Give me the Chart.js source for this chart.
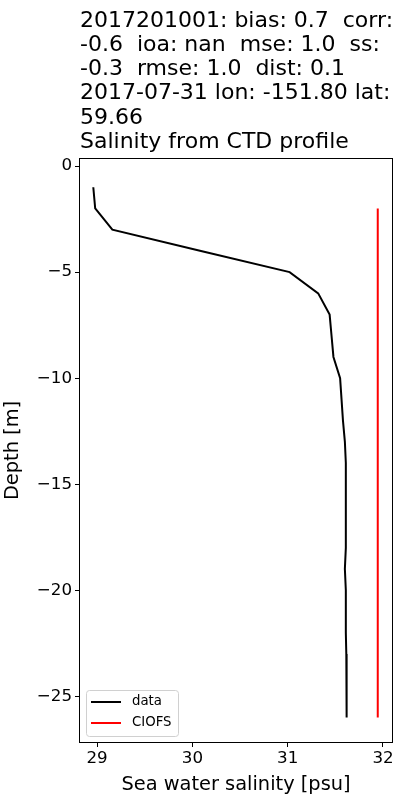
<!DOCTYPE html>
<html lang="en">
<head>
  <title>Salinity from CTD profile</title>
  <script src="https://cdn.jsdelivr.net/npm/chart.js"></script>
  <style>
    html, body { margin: 0; padding: 0; background: #fff; }
    #wrap { width: 400px; height: 800px; }
  </style>
</head>
<body>
<div id="wrap"><canvas id="profileChart"></canvas></div>
<script>
  const titleLines = [
    '2017201001: bias: 0.7  corr:',
    '-0.6  ioa: nan  mse: 1.0  ss:',
    '-0.3  rmse: 1.0  dist: 0.1',
    '2017-07-31 lon: -151.80 lat:',
    '59.66',
    'Salinity from CTD profile'
  ];

  // CTD cast (depth in m, salinity in psu)
  const dataDepth = [-1, -2, -3, -4, -5, -6, -7, -8, -9, -10, -11, -12, -13,
    -14, -15, -16, -17, -18, -19, -20, -21, -22, -23, -24, -25, -26];
  const dataSalinity = [28.96, 28.98, 29.16, 30.09, 31.02, 31.32, 31.44, 31.46, 31.48, 31.55,
    31.565, 31.58, 31.60, 31.61, 31.61, 31.61, 31.61, 31.61, 31.60, 31.61,
    31.61, 31.61, 31.615, 31.615, 31.62, 31.62];

  // model
  const modelDepth = [-2, -26];
  const modelSalinity = [31.945, 31.945];

  const xTicks = [29, 30, 31, 32];
  const yTicks = [0, -5, -10, -15, -20, -25];

  const FONT = 'DejaVu Sans';

  function toPoints(xs, ys) {
    return xs.map((x, i) => ({ x: x, y: ys[i] }));
  }

  const titlePlugin = {
    id: 'stackedTitle',
    afterDraw(chart) {
      const ctx = chart.ctx;
      ctx.save();
      ctx.fillStyle = '#000';
      ctx.font = '22px "' + FONT + '"';
      ctx.textBaseline = 'alphabetic';
      ctx.textAlign = 'left';
      titleLines.forEach((line, i) => {
        ctx.fillText(line, chart.chartArea.left + 1, 26.5 + i * 24.3);
      });
      ctx.restore();
    }
  };

  const framePlugin = {
    id: 'frame',
    afterDatasetsDraw(chart) {
      const a = chart.chartArea;
      const ctx = chart.ctx;
      ctx.save();
      ctx.strokeStyle = '#000';
      ctx.lineWidth = 1;
      ctx.strokeRect(a.left + 0.5, a.top + 0.5, a.right - a.left - 1, a.bottom - a.top - 1);
      ctx.restore();
    }
  };

  // matplotlib-style legend in the lower left corner of the axes
  const legendPlugin = {
    id: 'boxLegend',
    afterDraw(chart) {
      const a = chart.chartArea;
      const ctx = chart.ctx;
      const x0 = a.left + 7, y1 = a.bottom - 7;
      const w = 92, h = 46;
      ctx.save();
      ctx.fillStyle = 'rgba(255,255,255,0.8)';
      ctx.strokeStyle = '#d0d0d0';
      ctx.lineWidth = 1;
      ctx.beginPath();
      ctx.roundRect(x0 + 0.5, y1 - h + 0.5, w, h, 3);
      ctx.fill();
      ctx.stroke();
      ctx.font = '13.3px "' + FONT + '"';
      ctx.textBaseline = 'middle';
      chart.data.datasets.forEach((ds, i) => {
        const yy = y1 - h + 12 + i * 21;
        ctx.strokeStyle = ds.borderColor;
        ctx.lineWidth = 2;
        ctx.beginPath();
        ctx.moveTo(x0 + 5, yy);
        ctx.lineTo(x0 + 35, yy);
        ctx.stroke();
        ctx.fillStyle = '#000';
        ctx.fillText(ds.label, x0 + 46, yy);
      });
      ctx.restore();
    }
  };

  new Chart(document.getElementById('profileChart'), {
    type: 'scatter',
    data: {
      datasets: [
        {
          label: 'data',
          data: toPoints(dataSalinity, dataDepth),
          showLine: true,
          borderColor: '#000000',
          borderWidth: 2,
          pointRadius: 0,
          tension: 0
        },
        {
          label: 'CIOFS',
          data: toPoints(modelSalinity, modelDepth),
          showLine: true,
          borderColor: '#ff0000',
          borderWidth: 2,
          pointRadius: 0,
          tension: 0
        }
      ]
    },
    options: {
      responsive: true,
      maintainAspectRatio: false,
      animation: false,
      layout: { padding: { top: 158, right: 7, left: 0, bottom: 0 } },
      plugins: {
        legend: { display: false },
        title: { display: false },
        tooltip: { enabled: false }
      },
      scales: {
        x: {
          type: 'linear',
          min: 28.81,
          max: 32.105,
          afterBuildTicks: s => { s.ticks = xTicks.map(v => ({ value: v })); },
          afterFit: s => { s.height = 57; },
          grid: { drawOnChartArea: false, drawTicks: true, tickLength: 4, color: '#000', tickColor: '#000' },
          border: { display: false },
          ticks: { color: '#000', font: { family: FONT, size: 16.7 }, padding: 2, maxRotation: 0 },
          title: { display: true, text: 'Sea water salinity [psu]', color: '#000', font: { family: FONT, size: 19.4 }, padding: { top: 0, bottom: 3 } }
        },
        y: {
          type: 'linear',
          min: -27.2,
          max: 0.38,
          afterBuildTicks: s => { s.ticks = yTicks.map(v => ({ value: v })); },
          afterFit: s => { s.width = 79; },
          grid: { drawOnChartArea: false, drawTicks: true, tickLength: 4, color: '#000', tickColor: '#000' },
          border: { display: false },
          ticks: {
            color: '#000',
            font: { family: FONT, size: 16.7 },
            padding: 3,
            callback: v => String(v).replace('-', '\u2212')
          },
          title: { display: true, text: 'Depth [m]', color: '#000', font: { family: FONT, size: 19.4 }, padding: { top: 1, bottom: 0 } }
        }
      }
    },
    plugins: [titlePlugin, framePlugin, legendPlugin]
  });
</script>
</body>
</html>
